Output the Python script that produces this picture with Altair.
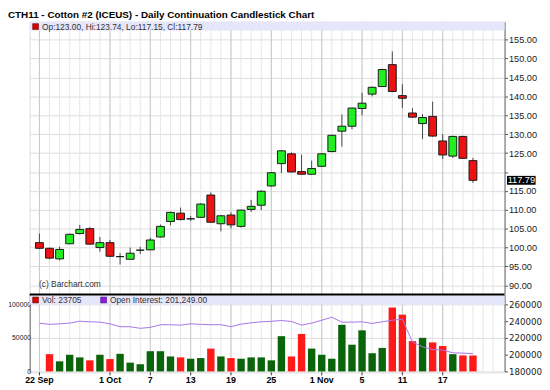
import altair as alt
import pandas as pd

# ---------------- data ----------------
dates = ["2010-09-22", "2010-09-23", "2010-09-24", "2010-09-27", "2010-09-28", "2010-09-29",
         "2010-09-30", "2010-10-01", "2010-10-04", "2010-10-05", "2010-10-06", "2010-10-07",
         "2010-10-08", "2010-10-11", "2010-10-12", "2010-10-13", "2010-10-14", "2010-10-15",
         "2010-10-18", "2010-10-19", "2010-10-20", "2010-10-21", "2010-10-22", "2010-10-25",
         "2010-10-26", "2010-10-27", "2010-10-28", "2010-10-29", "2010-11-01", "2010-11-02",
         "2010-11-03", "2010-11-04", "2010-11-05", "2010-11-08", "2010-11-09", "2010-11-10",
         "2010-11-11", "2010-11-12", "2010-11-15", "2010-11-16", "2010-11-17", "2010-11-18",
         "2010-11-19", "2010-11-22"]
opens = [101.3, 99.8, 97.0, 101.0, 103.7, 105.0, 100.0, 101.3, 97.6, 96.9, 99.3, 99.4,
         102.8, 106.9, 109.1, 107.6, 108.0, 113.9, 106.3, 108.6, 105.6, 110.1, 111.2, 116.3,
         122.2, 124.8, 120.1, 119.4, 121.5, 125.4, 130.8, 132.1, 136.8, 140.6, 142.6, 148.4,
         140.2, 135.6, 132.8, 134.7, 128.2, 124.2, 129.4, 123.00]
highs = [103.7, 100.0, 100.2, 103.7, 106.0, 105.4, 102.8, 102.0, 98.5, 100.0, 100.2, 102.6,
         106.1, 109.5, 110.6, 108.3, 111.7, 114.6, 108.6, 109.3, 110.0, 112.6, 115.1, 119.9,
         125.8, 125.2, 124.6, 123.0, 125.0, 129.9, 135.2, 137.0, 141.0, 142.6, 147.3, 151.9,
         143.2, 136.9, 135.3, 138.6, 130.0, 129.6, 129.6, 123.74]
lows = [99.6, 96.9, 96.6, 100.9, 103.5, 100.8, 98.9, 97.5, 95.5, 96.8, 98.3, 99.3,
        102.6, 105.9, 107.2, 107.0, 107.8, 106.5, 104.3, 105.1, 105.3, 109.4, 109.9, 116.1,
        119.7, 119.9, 119.3, 119.2, 121.3, 125.2, 126.7, 131.3, 135.0, 140.0, 142.5, 141.1,
        136.9, 134.4, 128.7, 129.3, 123.4, 123.7, 123.5, 117.15]
closes = [99.8, 97.2, 99.5, 103.5, 104.8, 100.9, 101.3, 97.7, 97.6, 98.5, 99.3, 102.0,
          105.6, 109.3, 107.4, 107.6, 111.5, 106.7, 108.4, 106.0, 109.9, 110.9, 114.9, 119.8,
          125.6, 120.0, 119.4, 120.9, 124.8, 129.7, 132.1, 136.9, 138.2, 142.4, 147.1, 141.3,
          139.5, 134.5, 134.4, 129.5, 124.5, 129.4, 123.6, 117.79]
volumes = [None, 25700, 15000, 24800, 20900, 16500, 24800, 18400, 26200, 13100, 10700, 30100,
           30100, 22300, 20900, 18900, 19900, 34000, 22300, 19900, 18900, 20900, 20900, 16500,
           52500, 22300, 55800, 34000, 24800, 18900, 69400, 39800, 61200, 27100, 35000, 95200,
           84600, 45200, 50000, 43200, 37900, 25700, 23800, 23705]
open_interest = [237800, 236300, 237000, 237800, 240100, 239400, 239000, 237000, 233500, 233500,
                 231600, 232700, 235900, 235900, 235400, 237000, 236300, 235900, 235900, 233500,
                 236600, 238200, 239400, 240000, 240900, 239800, 235400, 237800, 241300, 244800,
                 239000, 239000, 239400, 237400, 239400, 241300, 242500, 215200, 209400, 206200,
                 205500, 202300, 201900, 201249]

tick_idx = [0, 7, 11, 15, 19, 23, 28, 32, 36, 40]
tick_text = ["22 Sep", "1 Oct", "7", "13", "19", "25", "1 Nov", "5", "11", "17"]
day_slots = list(range(0, 46))          # daily grid slots (incl. 2 empty days at the right)
price_ticks = [90, 95, 100, 105, 110, 115, 120, 125, 130, 135, 140, 145, 150, 155]
vol_ticks = [0, 50000, 100000]
oi_ticks = [180000, 200000, 220000, 240000, 260000]

title_text = "CTH11 - Cotton #2 (ICEUS) - Daily Continuation Candlestick Chart"
price_legend = "Op:123.00, Hi:123.74, Lo:117.15, Cl:117.79"
vol_legend = "Vol: 23705"
oi_legend = "Open Interest: 201,249.00"
copyright_text = "(c) Barchart.com"
last_price = 117.79

# ---------------- tables ----------------
df = pd.DataFrame({
    "i": list(range(len(dates))), "date": dates, "open": opens, "high": highs,
    "low": lows, "close": closes, "volume": volumes, "oi": open_interest,
})
df["dir"] = ["up" if c >= o else "down" for o, c in zip(opens, closes)]
last_df = pd.DataFrame({"p": [last_price], "t": [f"{last_price:.2f}"]})
slots_df = pd.DataFrame({"i": day_slots})
ticks_df = pd.DataFrame({"i": tick_idx, "label": tick_text})
one = pd.DataFrame({"a": [0]})

W, H = 482, 356
FONT = "Liberation Sans"


def price_scale():
    return alt.Scale(domain=[87.82, 159.77], range=[276, 0], nice=False, zero=False)


x_scale = alt.Scale(domain=[-0.4785, 45.646], nice=False, zero=False)
vol_scale = alt.Scale(domain=[0, 114500], range=[355, 277], nice=False, zero=False)
oi_scale = alt.Scale(domain=[180000, 272000], range=[355, 277], nice=False, zero=False)

price_axis = alt.Axis(
    orient="right", values=price_ticks,
    labelExpr="datum.value == 120 ? '' : format(datum.value, '.2f')",
    grid=True, gridColor="#dcdcdc", tickSize=3, tickColor="#555", domainColor="#666",
    labelFont=FONT, labelFontSize=9.3, labelColor="#222", labelPadding=1,
    labelOverlap=False, labelFlush=False, title=None,
)
vol_axis = alt.Axis(
    orient="left", values=vol_ticks, format="d", grid=True, gridColor="#dcdcdc",
    ticks=False, domainColor="#666",
    labelFont=FONT, labelFontSize=7, labelColor="#222", labelPadding=-1,
    labelOverlap=False, labelFlush=False, title=None,
)
oi_axis = alt.Axis(
    orient="right", values=oi_ticks, format="d", grid=False,
    tickSize=3, tickColor="#555", domainColor="#666",
    labelFont="DejaVu Sans", labelFontSize=8.8, labelColor="#222", labelPadding=1,
    labelOverlap=False, labelFlush=False, title=None,
)

X = alt.X("i:Q", scale=x_scale, axis=None)

# daily (light) and labelled-date (darker) vertical grid lines
minor_grid = alt.Chart(slots_df).mark_rule(color="#e6e6e6", strokeWidth=1).encode(x=X)
major_grid = alt.Chart(ticks_df).mark_rule(color="#c8c8c8", strokeWidth=1).encode(x=X)
# date axis: ticks + bold labels placed through the x scale
x_ticks = alt.Chart(ticks_df).mark_rule(color="#333", strokeWidth=1).encode(
    x=X, y=alt.value(H), y2=alt.value(H + 3))
x_labels = alt.Chart(ticks_df).mark_text(font=FONT, fontSize=9, fontWeight="bold", color="#000",
                                         align="center", baseline="top").encode(
    x=X, y=alt.value(H + 4), text="label:N")

base = alt.Chart(df)

wicks = base.mark_rule(color="#444", strokeWidth=1).encode(
    x=X,
    y=alt.Y("low:Q", scale=price_scale(), axis=price_axis),
    y2="high:Q",
)
bodies = base.mark_bar(size=8, stroke="#1a1a1a", strokeWidth=1).encode(
    x=X,
    y=alt.Y("open:Q", scale=price_scale(), axis=None),
    y2="close:Q",
    color=alt.Color("dir:N", scale=alt.Scale(domain=["up", "down"], range=["#22ee22", "#ee1111"]),
                    legend=None),
)
last_box = alt.Chart(last_df).mark_tick(color="#000", size=29, thickness=9, opacity=1,
                                        orient="horizontal").encode(
    x=alt.value(499),
    y=alt.Y("p:Q", scale=price_scale(), axis=None),
)
last_txt = alt.Chart(last_df).mark_text(color="#fff", font=FONT, fontSize=9.3, align="center",
                                        baseline="middle").encode(
    x=alt.value(499),
    y=alt.Y("p:Q", scale=price_scale(), axis=None),
    text="t:N",
)
vol_bars = base.mark_bar(size=7.5).encode(
    x=X,
    y=alt.Y("volume:Q", scale=vol_scale, axis=vol_axis),
    color=alt.Color("dir:N", scale=alt.Scale(domain=["up", "down"], range=["#0a640a", "#ff1a1a"]),
                    legend=None),
)
oi_line = base.mark_line(color="#a675e6", strokeWidth=1).encode(
    x=X,
    y=alt.Y("oi:Q", scale=oi_scale, axis=oi_axis),
)

deco = alt.Chart(one)
top_band = deco.mark_rect(color="#e6e6fb").encode(
    x=alt.value(0), x2=alt.value(W), y=alt.value(0), y2=alt.value(9))
bot_band = deco.mark_rect(color="#e6e6fb").encode(
    x=alt.value(0), x2=alt.value(W), y=alt.value(278), y2=alt.value(287))
separator = deco.mark_rule(color="#000", strokeWidth=2).encode(
    x=alt.value(0), x2=alt.value(W), y=alt.value(277))
sq1 = deco.mark_rect(color="#dd0000", stroke="#550000", strokeWidth=0.5).encode(
    x=alt.value(3), x2=alt.value(9), y=alt.value(2), y2=alt.value(8))
sq2 = deco.mark_rect(color="#dd0000", stroke="#550000", strokeWidth=0.5).encode(
    x=alt.value(3), x2=alt.value(9), y=alt.value(279.5), y2=alt.value(285.5))
sq3 = deco.mark_rect(color="#8a1ee0", stroke="#400070", strokeWidth=0.5).encode(
    x=alt.value(72), x2=alt.value(78), y=alt.value(279.5), y2=alt.value(285.5))
t_title = deco.mark_text(text=title_text, font=FONT, fontSize=10, fontWeight="bold",
                         color="#000", align="left", baseline="alphabetic").encode(
    x=alt.value(-22), y=alt.value(-3.5))
t_price = deco.mark_text(text=price_legend, font=FONT, fontSize=8.5, color="#333",
                         align="left", baseline="alphabetic").encode(
    x=alt.value(12.5), y=alt.value(8))
t_vol = deco.mark_text(text=vol_legend, font=FONT, fontSize=8.5, color="#333",
                       align="left", baseline="alphabetic").encode(
    x=alt.value(12.5), y=alt.value(286))
t_oi = deco.mark_text(text=oi_legend, font=FONT, fontSize=8.5, color="#333",
                      align="left", baseline="alphabetic").encode(
    x=alt.value(81.5), y=alt.value(286))
t_copy = deco.mark_text(text=copyright_text, font=FONT, fontSize=8.5, color="#333",
                        align="left", baseline="alphabetic").encode(
    x=alt.value(9.5), y=alt.value(269))

chart = alt.layer(
    minor_grid, major_grid, wicks, bodies, last_box, last_txt, vol_bars, oi_line,
    top_band, bot_band, separator, sq1, sq2, sq3,
    t_title, t_price, t_vol, t_oi, t_copy, x_ticks, x_labels,
).resolve_scale(
    y="independent", color="independent"
).properties(
    width=W, height=H,
    autosize=alt.AutoSizeParams(type="none"),
    padding={"left": 22, "top": 11, "right": 38, "bottom": 15},
).configure_view(
    stroke="#666", strokeWidth=1
).configure(
    font=FONT, background="#ffffff"
)

chart.save("out.html", embed_options={"renderer": "svg", "actions": False})
